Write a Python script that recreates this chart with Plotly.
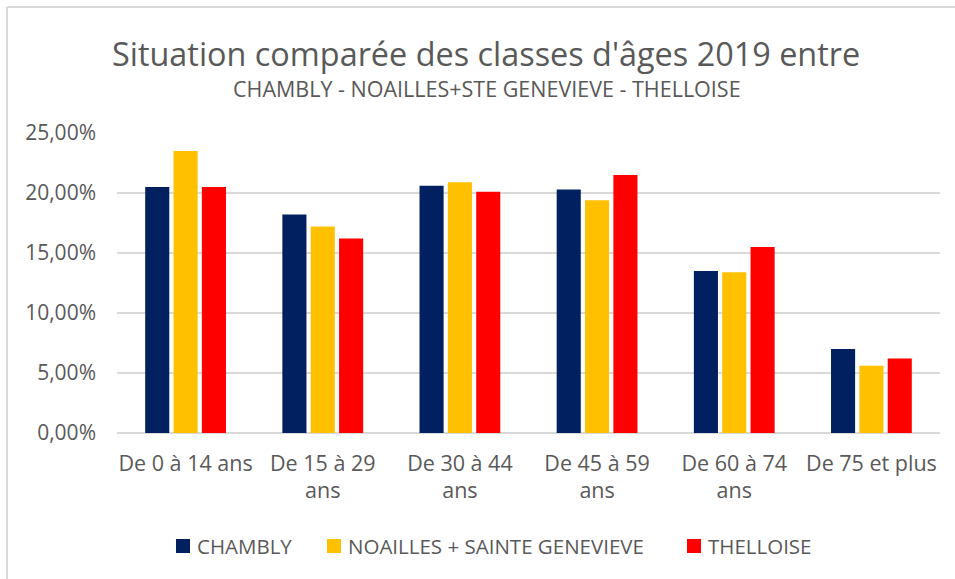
import plotly.graph_objects as go

categories = ["De 0 à 14 ans", "De 15 à 29<br>ans", "De 30 à 44<br>ans", "De 45 à 59<br>ans", "De 60 à 74<br>ans", "De 75 et plus"]
chambly = [0.205, 0.182, 0.206, 0.203, 0.135, 0.070]
noailles = [0.235, 0.172, 0.209, 0.194, 0.134, 0.056]
thelloise = [0.205, 0.162, 0.201, 0.215, 0.155, 0.062]
series_names = ["CHAMBLY", "NOAILLES + SAINTE GENEVIEVE", "THELLOISE"]
colors = ["#002060", "#FFC000", "#FF0000"]
y_ticks = [0, 0.05, 0.10, 0.15, 0.20, 0.25]

FONT = "Open Sans, Noto Sans, sans-serif"
GRAY = "#595959"

fig = go.Figure()
for name, vals, c in zip(series_names, [chambly, noailles, thelloise], colors):
    fig.add_trace(go.Bar(x=categories, y=vals, name=name, showlegend=False,
                         marker=dict(color=c, line=dict(width=0))))

L, R, T, B = 117, 15, 133, 146
W, H = 955, 579
pw, ph = W - L - R, H - T - B

def px_x(p):
    return (p - L) / pw

def px_y(p):
    return (H - B - p) / ph

fig.update_layout(
    width=W, height=H,
    margin=dict(l=L, r=R, t=T, b=B, autoexpand=False),
    paper_bgcolor="white", plot_bgcolor="white",
    separators=", ",
    barmode="group", bargap=0.38, bargroupgap=0.15,
    font=dict(family=FONT, color=GRAY, size=21),
    showlegend=False,
    xaxis=dict(showgrid=False, showline=False, ticks="", ticklabelstandoff=15,
               tickfont=dict(size=21.5, color=GRAY)),
    yaxis=dict(range=[0, 0.25], tickvals=y_ticks, tickformat=".2%", showgrid=True,
               gridcolor="#d9d9d9", gridwidth=2, zeroline=True, zerolinecolor="#d9d9d9",
               zerolinewidth=2, showline=False, ticks="", ticklabelstandoff=20,
               tickfont=dict(size=21, color=GRAY)),
)

fig.add_annotation(text="Situation comparée des classes d'âges 2019 entre", xref="paper", yref="paper",
                   x=px_x(486), y=px_y(53), xanchor="center", yanchor="middle", showarrow=False,
                   font=dict(family=FONT, size=32.4, color=GRAY))
fig.add_annotation(text="CHAMBLY - NOAILLES+STE GENEVIEVE - THELLOISE", xref="paper", yref="paper",
                   x=px_x(487), y=px_y(88), xanchor="center", yanchor="middle", showarrow=False,
                   font=dict(family=FONT, size=21.5, color=GRAY))

# custom legend (squares + labels)
legend_square_x = [176, 327, 687]
legend_y = 546
for name, c, sx in zip(series_names, colors, legend_square_x):
    fig.add_shape(type="rect", xref="paper", yref="paper", x0=px_x(sx), x1=px_x(sx + 14),
                  y0=px_y(legend_y + 7), y1=px_y(legend_y - 7), fillcolor=c, line=dict(width=0))
    fig.add_annotation(text=name, xref="paper", yref="paper", x=px_x(sx + 19), y=px_y(legend_y),
                       xanchor="left", yanchor="middle", showarrow=False,
                       font=dict(family=FONT, size=20.5, color=GRAY))

# outer frame (top and left edges)
fig.add_shape(type="line", xref="paper", yref="paper", x0=px_x(7), x1=px_x(960), y0=px_y(7), y1=px_y(7),
              line=dict(color="#d9d9d9", width=2))
fig.add_shape(type="line", xref="paper", yref="paper", x0=px_x(7), x1=px_x(7), y0=px_y(7), y1=px_y(585),
              line=dict(color="#d9d9d9", width=2))

fig.write_html("out.html", config={"displayModeBar": False},
               post_script="document.body.style.margin='0';document.body.style.overflow='hidden';")
